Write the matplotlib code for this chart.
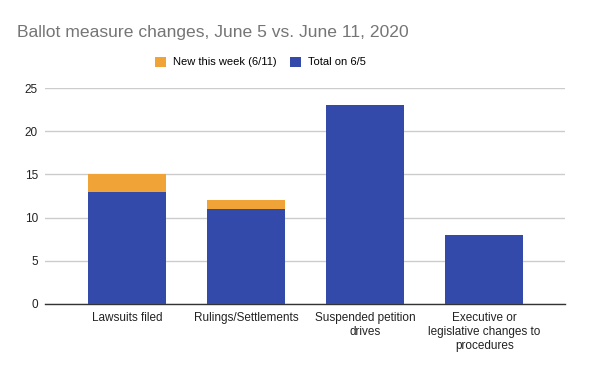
import matplotlib
matplotlib.use("Agg")
import matplotlib.pyplot as plt
import numpy as np

plt.rcParams['font.family'] = ['Liberation Sans', 'DejaVu Sans']

categories = ["Lawsuits filed", "Rulings/Settlements", "Suspended petition\ndrives",
              "Executive or\nlegislative changes to\nprocedures"]
total_65 = [13, 11, 23, 8]
new_week = [2, 1, 0, 0]
yticks = [0, 5, 10, 15, 20, 25]

blue = "#334aab"
orange = "#f0a336"

fig = plt.figure(figsize=(6, 3.71), dpi=100)
ax = fig.add_axes([0.075, 0.1806, 0.867, 0.5822])

x = np.arange(len(categories))
ax.bar(x, total_65, width=0.655, color=blue, label="Total on 6/5", zorder=3)
ax.bar(x, new_week, width=0.655, bottom=total_65, color=orange,
       label="New this week (6/11)", zorder=3)

ax.set_xlim(-0.69, 3.68)
ax.set_ylim(0, 25)
ax.set_yticks(yticks)
ax.yaxis.grid(True, color="#cccccc", linewidth=1, zorder=0)
for s in ["top", "right", "left"]:
    ax.spines[s].set_visible(False)
ax.spines["bottom"].set_color("#333333")
ax.spines["bottom"].set_linewidth(1)
ax.tick_params(axis="both", length=0, labelsize=8.5, colors="#222222")
ax.tick_params(axis="y", pad=5)
ax.tick_params(axis="x", pad=6)
ax.set_xticks(x)
ax.set_xticklabels(categories, linespacing=1.2)

fig.text(0.028, 0.9, "Ballot measure changes, June 5 vs. June 11, 2020",
         fontsize=12.6, color="#757575", va="baseline")

h, l = ax.get_legend_handles_labels()
fig.legend(h[::-1], l[::-1], loc="center", bbox_to_anchor=(0.434, 0.833), ncol=2,
           frameon=False, fontsize=8, handlelength=1.0, handleheight=1.0,
           columnspacing=1.2, handletextpad=0.6)

fig.savefig("out.png", dpi=100)
